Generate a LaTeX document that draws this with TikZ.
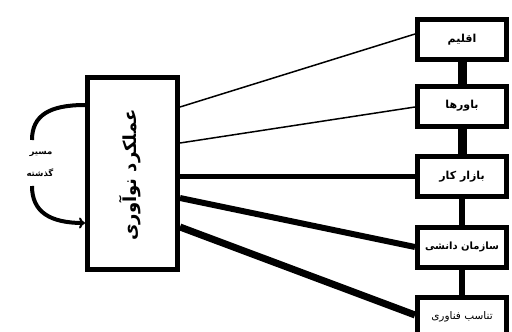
\documentclass[tikz,border=0pt]{standalone}
\usepackage{fontspec}
\newfontfamily\arabicfont[Script=Arabic]{DejaVu Sans}
\TeXXeTstate=1
\usetikzlibrary{arrows.meta}
\begin{document}
\begin{tikzpicture}[x=1pt,y=-1pt,
  mainbox/.style={draw,line width=5pt,inner sep=0pt,minimum width=90pt,minimum height=192pt},
  sidebox/.style={draw,line width=5pt,inner sep=0pt,minimum width=89pt,minimum height=40pt,font=\arabicfont\bfseries\fontsize{11}{12}\selectfont},
  lab/.style={font=\arabicfont\bfseries\fontsize{8.5}{9}\selectfont,inner sep=0pt}
]
\useasboundingbox (0,0) rectangle (512,332);
\node[mainbox] (main) at (132.5,173.5) {};
\node[font=\arabicfont\bfseries\fontsize{18}{19}\selectfont,rotate=90,inner sep=0pt] (maint) at (130,175) {\beginR عملکرد نوآوری\endR};

\node[sidebox] (b1) at (462,39.5) {\beginR اقلیم\endR};
\node[sidebox] (b2) at (462,106) {\beginR باورها\endR};
\node[sidebox] (b3) at (462,176.5) {\beginR بازار کار\endR};
\node[sidebox,font=\arabicfont\bfseries\fontsize{10}{12}\selectfont] (b4) at (462,247) {\beginR سازمان دانشی\endR};
\node[sidebox,font=\arabicfont\fontsize{10.5}{12}\selectfont] (b5) at (462,317) {\beginR تناسب فناوری\endR};

% vertical connectors
\draw[line width=9pt] (b1.south) -- (b2.north);
\draw[line width=9pt] (b2.south) -- (b3.north);
\draw[line width=6pt] (b3.south) -- (b4.north);
\draw[line width=5.5pt] (b4.south) -- (b5.north);

% links from main box
\draw[line width=1.5pt] (main.east |- 0,107) -- (b1.west |- 0,34);
\draw[line width=1.5pt] (main.east |- 0,143) -- (b2.west |- 0,107);
\draw[line width=5pt] (main.east |- b3.west) -- (b3.west);
\draw[line width=6pt] (main.east |- 0,198) -- (b4.west |- 0,247);
\draw[line width=7pt] (main.east |- 0,227) -- (b5.west |- 0,315);

% feedback arc
\node[lab] (t1) at (41,154) {\beginR مسیر\endR};
\node[lab] (t2) at (40,173) {\beginR گذشته\endR};
\coordinate (a1) at (32,140);
\coordinate (a2) at (32,186);
\draw[line width=4pt] (main.west |- 0,105) .. controls (50,105) and (32,115) .. (a1);
\draw[line width=4pt,-{To[length=6pt,width=11pt,line width=2pt]}] (a2) .. controls (32,212) and (50,223) .. (main.west |- 0,223);
\end{tikzpicture}
\end{document}
